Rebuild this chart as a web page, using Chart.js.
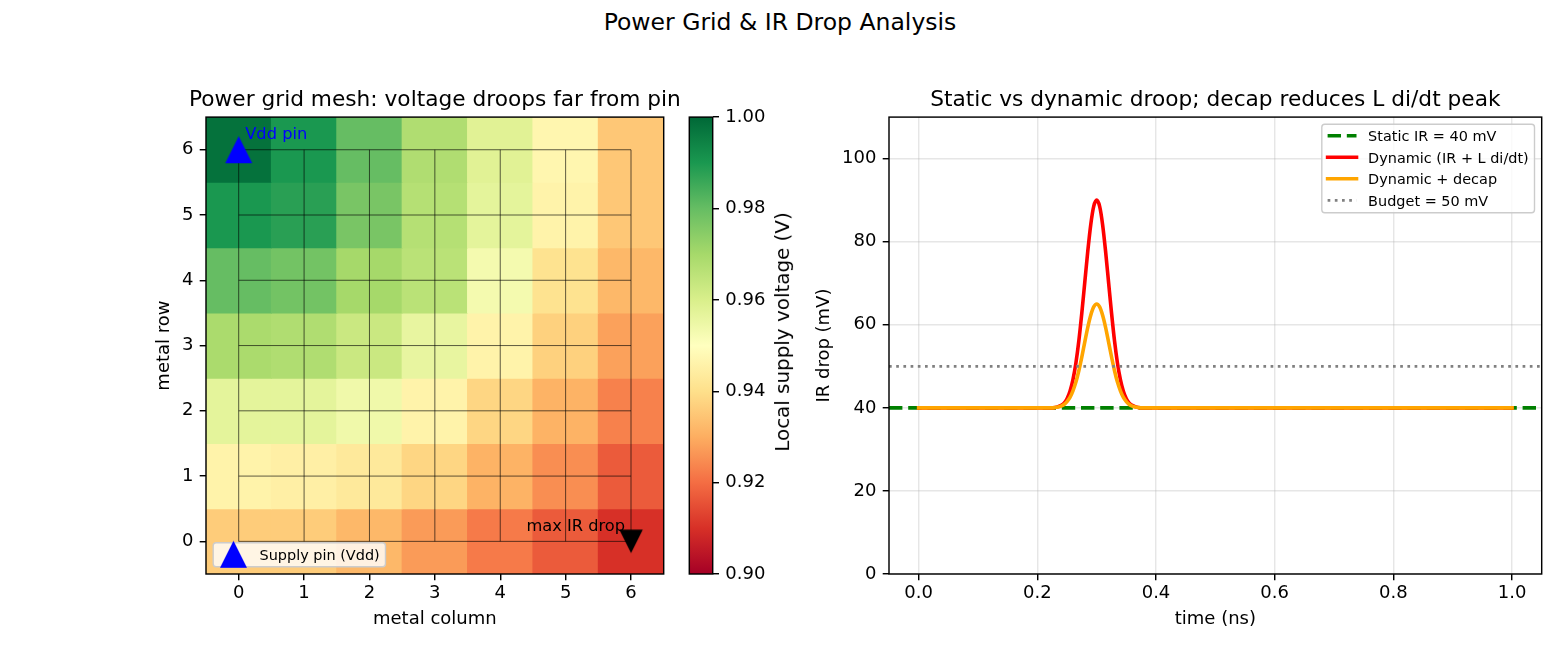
<!DOCTYPE html>
<html>
<head>
<meta charset="utf-8">
<script src="https://cdn.jsdelivr.net/npm/chart.js@4.4.1/dist/chart.umd.min.js"></script>
<style>
  body { margin: 0; background: #fff; }
  #fig { position: relative; width: 1560px; height: 650px; overflow: hidden;
         font-family: 'DejaVu Sans', sans-serif; color: #000; }
  canvas { position: absolute; }
  .txt { position: absolute; line-height: 1; white-space: nowrap; text-align: center; }
</style>
</head>
<body>
<div id="fig">
  <canvas id="heat" width="580" height="550" style="left:100px;top:100px"></canvas>
  <canvas id="cbar" width="110" height="550" style="left:680px;top:100px"></canvas>
  <canvas id="drop" width="770" height="550" style="left:790px;top:100px"></canvas>
  <div class="txt" style="left:380px;top:11.3px;width:800px;font-size:23.5px">Power Grid &amp; IR Drop Analysis</div>
  <div class="txt" style="left:34.9px;top:87.6px;width:800px;font-size:21.7px">Power grid mesh: voltage droops far from pin</div>
  <div class="txt" style="left:815.4px;top:87.6px;width:800px;font-size:21.7px">Static vs dynamic droop; decap reduces L di/dt peak</div>
  <div class="txt" style="left:582.6px;top:322px;width:400px;font-size:19.9px;transform:rotate(-90deg)">Local supply voltage (V)</div>
</div>
<script>
// ---- data ----
const colIdx = [0, 1, 2, 3, 4, 5, 6];
const rowIdx = [6, 5, 4, 3, 2, 1, 0];   // top row first
// local supply voltage (V), one list per row, same order as rowIdx
const gridVolts = [
  [0.998, 0.990, 0.980, 0.968, 0.958, 0.947, 0.935],
  [0.990, 0.988, 0.977, 0.967, 0.957, 0.946, 0.935],
  [0.980, 0.978, 0.970, 0.966, 0.953, 0.941, 0.932],
  [0.969, 0.968, 0.963, 0.956, 0.946, 0.937, 0.928],
  [0.957, 0.957, 0.954, 0.946, 0.938, 0.931, 0.923],
  [0.946, 0.945, 0.943, 0.938, 0.931, 0.925, 0.917],
  [0.936, 0.936, 0.932, 0.927, 0.922, 0.917, 0.910]
];
const voltTicks = [0.90, 0.92, 0.94, 0.96, 0.98, 1.00];
const pinAt = { x: 0, y: 6 };
const worstAt = { x: 6, y: 0 };

const timeNs = [0, 0.1, 0.2,
  0.22, 0.225, 0.23, 0.235, 0.24, 0.245, 0.25, 0.255, 0.26, 0.265, 0.27, 0.275, 0.28, 0.285, 0.29, 0.295,
  0.3, 0.305, 0.31, 0.315, 0.32, 0.325, 0.33, 0.335, 0.34, 0.345, 0.35, 0.355, 0.36, 0.365, 0.37, 0.375, 0.38,
  0.4, 0.6, 0.8, 1.0];
const dynamicMv = [40, 40, 40,
  40.0, 40.0, 40.1, 40.3, 40.6, 41.1, 42.2, 44.0, 46.8, 50.8, 56.2, 62.9, 70.3, 77.7, 84.1, 88.5,
  90.0, 88.5, 84.1, 77.7, 70.3, 62.9, 56.2, 50.8, 46.8, 44.0, 42.2, 41.1, 40.6, 40.3, 40.1, 40.0, 40.0,
  40, 40, 40, 40];
const decapMv = [40, 40, 40,
  40.0, 40.0, 40.1, 40.2, 40.4, 40.8, 41.5, 42.5, 44.1, 46.2, 49.0, 52.3, 55.9, 59.4, 62.3, 64.3,
  65.0, 64.3, 62.3, 59.4, 55.9, 52.3, 49.0, 46.2, 44.1, 42.5, 41.5, 40.8, 40.4, 40.2, 40.1, 40.0, 40.0,
  40, 40, 40, 40];
const staticMv = 40;
const budgetMv = 50;
const timeSpan = [-0.05, 1.05];
const timeTicks = [0, 0.2, 0.4, 0.6, 0.8, 1.0];
const mvTicks = [0, 20, 40, 60, 80, 100];

// ---- style ----
const FONT = "'DejaVu Sans', sans-serif";
const VMIN = 0.90, VMAX = 1.00;
const RDYLGN = ['#a50026', '#d73027', '#f46d43', '#fdae61', '#fee08b', '#ffffbf',
                '#d9ef8b', '#a6d96a', '#66bd63', '#1a9850', '#006837'];

Chart.defaults.font.family = FONT;
Chart.defaults.font.size = 18;
Chart.defaults.color = '#000';
Chart.defaults.animation = false;
Chart.defaults.events = [];
Chart.defaults.plugins.legend.display = false;
Chart.defaults.plugins.tooltip.enabled = false;

const hexRgb = (h) => [1, 3, 5].map(i => parseInt(h.slice(i, i + 2), 16));

function cmap(v) {
  let t = Math.min(1, Math.max(0, (v - VMIN) / (VMAX - VMIN))) * (RDYLGN.length - 1);
  const i = Math.min(Math.floor(t), RDYLGN.length - 2);
  const f = t - i;
  const a = hexRgb(RDYLGN[i]), b = hexRgb(RDYLGN[i + 1]);
  return 'rgb(' + a.map((x, k) => Math.round(x + (b[k] - x) * f)).join(',') + ')';
}

function triMarker(size, color, down) {
  const c = document.createElement('canvas');
  c.width = c.height = Math.ceil(size + 2);
  const g = c.getContext('2d');
  const m = c.width / 2, h = size / 2;
  g.fillStyle = color;
  g.beginPath();
  if (down) { g.moveTo(m, m + h); g.lineTo(m - h, m - h); g.lineTo(m + h, m - h); }
  else { g.moveTo(m, m - h); g.lineTo(m - h, m + h); g.lineTo(m + h, m + h); }
  g.closePath();
  g.fill();
  return c;
}

// outline round the plot area (matplotlib spines)
const frame = {
  id: 'frame',
  afterDraw(chart, args, opts) {
    if (!opts.show) return;
    const { ctx, chartArea: a } = chart;
    ctx.save();
    ctx.strokeStyle = '#000';
    ctx.lineWidth = 1.44;
    ctx.strokeRect(a.left, a.top, a.right - a.left, a.bottom - a.top);
    ctx.restore();
  }
};

// text placed at data coordinates
const notes = {
  id: 'notes',
  afterDatasetsDraw(chart, args, opts) {
    if (!opts.items) return;
    const { ctx, scales: { x, y } } = chart;
    ctx.save();
    opts.items.forEach(n => {
      ctx.font = n.size + 'px ' + FONT;
      ctx.fillStyle = n.color;
      ctx.textAlign = n.align;
      ctx.textBaseline = 'alphabetic';
      ctx.fillText(n.text, x.getPixelForValue(n.x), y.getPixelForValue(n.y));
    });
    ctx.restore();
  }
};

// matplotlib-like legend box inside the plot area
const boxLegend = {
  id: 'boxLegend',
  afterDatasetsDraw(chart, args, opts) {
    if (!opts.corner) return;
    const items = chart.data.datasets.filter(d => d.label);
    const ctx = chart.ctx, a = chart.chartArea;
    const fs = 14.45, pad = 5.8, handle = 28.9, gap = 11.6, pitch = 21.5, top0 = 11.5, bot0 = 12.5, inset = 7.2;
    ctx.save();
    ctx.font = fs + 'px ' + FONT;
    const tw = Math.max(...items.map(d => ctx.measureText(d.label).width));
    const w = pad + handle + gap + tw + pad;
    const h = top0 + (items.length - 1) * pitch + bot0;
    const x0 = opts.corner === 'tr' ? a.right - inset - w : a.left + inset;
    const y0 = opts.corner === 'tr' ? a.top + inset : a.bottom - inset - h;
    ctx.beginPath();
    ctx.roundRect(x0, y0, w, h, 3);
    ctx.fillStyle = 'rgba(255,255,255,0.8)';
    ctx.fill();
    ctx.lineWidth = 1.4;
    ctx.strokeStyle = '#cccccc';
    ctx.stroke();
    items.forEach((d, i) => {
      const y = y0 + top0 + i * pitch;
      const hx = x0 + pad;
      if (d.pointStyle && typeof d.pointStyle === 'object') {
        const im = d.pointStyle;
        ctx.drawImage(im, hx + handle / 2 - im.width / 2, y - im.height / 2);
      } else {
        ctx.beginPath();
        ctx.setLineDash(d.borderDash || []);
        ctx.lineCap = d.borderDash ? 'butt' : 'square';
        ctx.lineWidth = d.borderWidth;
        ctx.strokeStyle = d.borderColor;
        ctx.moveTo(hx, y);
        ctx.lineTo(hx + handle, y);
        ctx.stroke();
        ctx.setLineDash([]);
      }
      ctx.fillStyle = '#000';
      ctx.textAlign = 'left';
      ctx.textBaseline = 'alphabetic';
      ctx.fillText(d.label, hx + handle + gap, y + 0.729 * fs / 2);
    });
    ctx.restore();
  }
};

Chart.register(frame, notes, boxLegend);

const tickGrid = { drawOnChartArea: false, color: '#000', tickColor: '#000',
                   lineWidth: 1.44, tickWidth: 1.44, tickLength: 6.3 };
const lightGrid = { color: 'rgba(176,176,176,0.32)', tickColor: '#000',
                    lineWidth: 1.44, tickWidth: 1.44, tickLength: 6.3 };
const setTicks = (vals) => (s) => { s.ticks = vals.map(v => ({ value: v })); };

// ---- heatmap ----
const cellSets = rowIdx.map((r, k) => ({
  type: 'bar',
  data: colIdx.map(c => ({ x: c, y: [r - 0.5, r + 0.5] })),
  backgroundColor: gridVolts[k].map(cmap),
  borderWidth: 0,
  inflateAmount: 0.5,
  grouped: false,
  barPercentage: 1,
  categoryPercentage: 1,
  order: 10
}));

const meshStyle = { type: 'line', borderColor: 'rgba(0,0,0,0.7)', borderWidth: 0.9, pointRadius: 0, order: 5 };
const meshSets = [
  ...colIdx.map(c => ({ ...meshStyle, data: [{ x: c, y: rowIdx[rowIdx.length - 1] }, { x: c, y: rowIdx[0] }] })),
  ...rowIdx.map(r => ({ ...meshStyle, data: [{ x: colIdx[0], y: r }, { x: colIdx[colIdx.length - 1], y: r }] }))
];

const pinSet = { type: 'line', label: 'Supply pin (Vdd)', data: [pinAt], showLine: false,
                 pointStyle: triMarker(27, 'blue', false), pointRadius: 10, order: 1 };
const worstSet = { type: 'line', data: [worstAt], showLine: false,
                   pointStyle: triMarker(23.5, '#000', true), pointRadius: 10, order: 1 };

new Chart(document.getElementById('heat'), {
  type: 'bar',
  data: { datasets: [...cellSets, ...meshSets, pinSet, worstSet] },
  options: {
    responsive: false,
    layout: { padding: { left: 53.5, top: 17, right: 16.3, bottom: 20 } },
    scales: {
      x: {
        type: 'linear', min: -0.5, max: 6.5, offset: false,
        grid: { ...tickGrid, offset: false }, border: { display: false },
        ticks: { padding: 2.4 },
        afterBuildTicks: setTicks(colIdx),
        title: { display: true, text: 'metal column', padding: 0 },
        afterFit: (s) => { s.height = 56; }
      },
      y: {
        type: 'linear', min: -0.5, max: 6.5,
        grid: tickGrid, border: { display: false },
        ticks: { padding: 6.3 },
        afterBuildTicks: setTicks([...rowIdx].reverse()),
        title: { display: true, text: 'metal row', padding: 0 },
        afterFit: (s) => { s.width = 52.5; }
      }
    },
    plugins: {
      frame: { show: true },
      boxLegend: { corner: 'bl' },
      notes: { items: [
        { text: 'Vdd pin', x: 0.1, y: 6.17, align: 'left', color: 'blue', size: 16.25 },
        { text: 'max IR drop', x: 5.91, y: 0.16, align: 'right', color: '#000', size: 16.25 }
      ] }
    }
  }
});

// ---- colorbar ----
function cbarGradient(chart) {
  const y = chart.scales.y;
  const y0 = y ? y.getPixelForValue(VMIN) : NaN;
  const y1 = y ? y.getPixelForValue(VMAX) : NaN;
  if (!Number.isFinite(y0) || !Number.isFinite(y1) || y0 === y1) return RDYLGN[5];
  const g = chart.ctx.createLinearGradient(0, y0, 0, y1);
  RDYLGN.forEach((c, i) => g.addColorStop(i / (RDYLGN.length - 1), c));
  return g;
}

new Chart(document.getElementById('cbar'), {
  type: 'bar',
  data: { labels: ['V'], datasets: [{
    data: [[VMIN, VMAX]],
    backgroundColor: (ctx) => cbarGradient(ctx.chart),
    borderWidth: 0, inflateAmount: 0, barPercentage: 1, categoryPercentage: 1
  }] },
  options: {
    responsive: false,
    layout: { padding: { left: 9.3, top: 17, right: 0, bottom: 76 } },
    scales: {
      x: { display: false },
      y: {
        position: 'right', min: VMIN, max: VMAX,
        grid: tickGrid, border: { display: false },
        ticks: { padding: 6.3, callback: (v) => v.toFixed(2) },
        afterBuildTicks: setTicks(voltTicks),
        afterFit: (s) => { s.width = 77.3; }
      }
    },
    plugins: { frame: { show: true } }
  }
});

// ---- droop waveforms ----
new Chart(document.getElementById('drop'), {
  type: 'line',
  data: { datasets: [
    { label: 'Static IR = 40 mV', data: timeSpan.map(t => ({ x: t, y: staticMv })),
      borderColor: 'green', borderWidth: 3.6, borderDash: [13.4, 5.8], order: 4 },
    { label: 'Dynamic (IR + L di/dt)', data: timeNs.map((t, i) => ({ x: t, y: dynamicMv[i] })),
      borderColor: 'red', borderWidth: 3.6, cubicInterpolationMode: 'monotone',
      borderCapStyle: 'square', order: 3 },
    { label: 'Dynamic + decap', data: timeNs.map((t, i) => ({ x: t, y: decapMv[i] })),
      borderColor: 'orange', borderWidth: 3.6, cubicInterpolationMode: 'monotone',
      borderCapStyle: 'square', order: 2 },
    { label: 'Budget = 50 mV', data: timeSpan.map(t => ({ x: t, y: budgetMv })),
      borderColor: 'gray', borderWidth: 2.7, borderDash: [2.7, 4.5], order: 1 }
  ] },
  options: {
    responsive: false,
    elements: { point: { radius: 0 }, line: { borderJoinStyle: 'round' } },
    layout: { padding: { left: 23.7, top: 17, right: 18.3, bottom: 20 } },
    scales: {
      x: {
        type: 'linear', min: timeSpan[0], max: timeSpan[1],
        grid: lightGrid, border: { display: false },
        ticks: { padding: 2.4, callback: (v) => v.toFixed(1) },
        afterBuildTicks: setTicks(timeTicks),
        title: { display: true, text: 'time (ns)', padding: 0 },
        afterFit: (s) => { s.height = 56; }
      },
      y: {
        type: 'linear', min: 0, max: 110,
        grid: lightGrid, border: { display: false },
        ticks: { padding: 6.3 },
        afterBuildTicks: setTicks(mvTicks),
        title: { display: true, text: 'IR drop (mV)', padding: 0 },
        afterFit: (s) => { s.width = 75.3; }
      }
    },
    plugins: { frame: { show: true }, boxLegend: { corner: 'tr' } }
  }
});
</script>
</body>
</html>
